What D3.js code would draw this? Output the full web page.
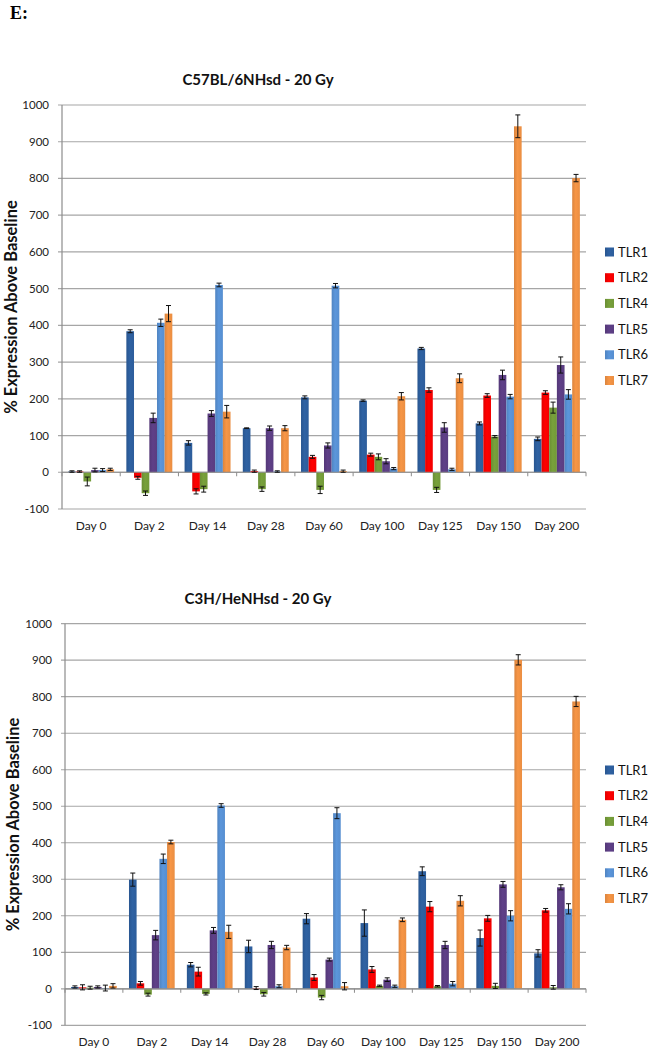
<!DOCTYPE html>
<html><head><meta charset="utf-8">
<script src="https://cdn.jsdelivr.net/npm/d3@7"></script>
<style>body{margin:0;background:#fff}svg{display:block}</style>
</head><body>
<svg id="c" width="649" height="1050"></svg>
<script>
const categories = ["Day 0","Day 2","Day 14","Day 28","Day 60","Day 100","Day 125","Day 150","Day 200"];
const seriesNames = ["TLR1","TLR2","TLR4","TLR5","TLR6","TLR7"];
const seriesColors = ["#2f62a3","#ff0000","#78a13b","#5f4088","#5b96db","#f79646"];
const yTicks = [-100,0,100,200,300,400,500,600,700,800,900,1000];

// C57BL/6NHsd - 20 Gy  (one array per series, across the days)
const c57_TLR1 = [2,384,80,120,204,195,337,133,91];
const c57_TLR2 = [2,-15,-52,3,42,48,224,209,217];
const c57_TLR4 = [-25,-57,-46,-46,-48,42,-48,97,176];
const c57_TLR5 = [6,148,160,120,73,30,122,265,292];
const c57_TLR6 = [6,407,510,2,508,10,8,206,212];
const c57_TLR7 = [8,432,165,120,3,207,256,942,801];
const c57_err1 = [2,4,6,1,4,2,3,4,5];
const c57_err2 = [2,4,7,3,4,4,6,5,5];
const c57_err4 = [12,6,8,6,10,8,7,3,15];
const c57_err5 = [5,13,8,6,7,7,13,13,22];
const c57_err6 = [4,10,5,2,6,3,3,6,13];
const c57_err7 = [3,22,17,7,3,10,12,31,10];

// C3H/HeNHsd - 20 Gy
const c3h_TLR1 = [5,299,66,116,192,180,322,139,97];
const c3h_TLR2 = [4,15,47,2,31,53,225,193,215];
const c3h_TLR4 = [3,-16,-14,-15,-24,8,7,8,4];
const c3h_TLR5 = [5,147,160,120,80,25,120,286,278];
const c3h_TLR6 = [2,356,502,7,481,7,14,200,219];
const c3h_TLR7 = [8,402,156,113,7,189,241,901,787];
const c3h_err1 = [3,18,6,17,14,36,12,22,10];
const c3h_err2 = [7,5,12,4,8,8,14,8,5];
const c3h_err4 = [4,4,3,5,6,2,2,7,5];
const c3h_err5 = [3,13,8,10,4,5,10,8,7];
const c3h_err6 = [8,13,5,4,15,3,6,14,14];
const c3h_err7 = [6,5,18,6,10,5,14,14,14];

const svg = d3.select("#c");
const defs = svg.append("defs");
seriesColors.forEach((c,i)=>{
  const g = defs.append("linearGradient").attr("id","g"+i).attr("x1","0").attr("x2","1").attr("y1","0").attr("y2","0");
  const base = d3.color(c);
  g.append("stop").attr("offset","0").attr("stop-color", base.darker(0.35));
  g.append("stop").attr("offset","0.45").attr("stop-color", base);
  g.append("stop").attr("offset","1").attr("stop-color", base.darker(0.15));
});

svg.append("text").attr("x",10).attr("y",19).attr("font-family","Liberation Serif, serif")
  .attr("font-weight","bold").attr("font-size",18).attr("fill","#000").text("E:");

function drawChart(cfg){
  const g = svg.append("g");
  const x0 = d3.scaleBand().domain(categories).range([cfg.left, 586]).paddingInner(0).paddingOuter(0);
  const x1 = d3.scaleBand().domain(seriesNames).range([0, x0.bandwidth()]).paddingInner(0).paddingOuter(0.8);
  const y = d3.scaleLinear().domain([-100,1000]).range([cfg.bottom, cfg.top]);

  // grid
  g.append("g").selectAll("line").data(yTicks).join("line")
    .attr("x1", cfg.left-4).attr("x2", 586)
    .attr("y1", d=>y(d)).attr("y2", d=>y(d))
    .attr("stroke", "#a6a6a6").attr("stroke-width", 1.2);
  // y axis labels
  g.append("g").selectAll("text").data(yTicks).join("text")
    .attr("x", cfg.left-13).attr("y", d=>y(d)+4)
    .attr("text-anchor","end").attr("font-family","Lato, sans-serif").attr("font-size",11.5).attr("fill","#222")
    .text(d=>d);
  // y axis line
  g.append("line").attr("x1",cfg.left).attr("x2",cfg.left).attr("y1",y(1000)).attr("y2",y(-100))
    .attr("stroke","#8c8c8c").attr("stroke-width",1.2);

  // bars
  cfg.vals.forEach((vals, si)=>{
    const s = seriesNames[si];
    const bg = g.append("g");
    bg.selectAll("rect").data(vals).join("rect")
      .attr("x", (d,i)=>x0(categories[i]) + x1(s))
      .attr("width", x1.bandwidth())
      .attr("y", d=>Math.min(y(d), y(0)))
      .attr("height", d=>Math.abs(y(d)-y(0)))
      .attr("fill", "url(#g"+si+")");
  });
  // x axis line at 0
  g.append("line").attr("x1",cfg.left).attr("x2",586).attr("y1",y(0)).attr("y2",y(0))
    .attr("stroke","#8c8c8c").attr("stroke-width",1.2);
  // x ticks at category boundaries
  const bounds = categories.map(c=>x0(c)).concat([586]);
  g.append("g").selectAll("line").data(bounds).join("line")
    .attr("x1",d=>d).attr("x2",d=>d).attr("y1",y(0)).attr("y2",y(0)+4)
    .attr("stroke","#8c8c8c").attr("stroke-width",1);
  // error bars
  cfg.vals.forEach((vals, si)=>{
    const s = seriesNames[si];
    const errs = cfg.errs[si];
    const eg = g.append("g").attr("stroke","#111").attr("stroke-width",1);
    vals.forEach((v,i)=>{
      const cx = x0(categories[i]) + x1(s) + x1.bandwidth()/2;
      const e = errs[i];
      eg.append("line").attr("x1",cx).attr("x2",cx).attr("y1",y(v-e)).attr("y2",y(v+e));
      eg.append("line").attr("x1",cx-2.5).attr("x2",cx+2.5).attr("y1",y(v-e)).attr("y2",y(v-e));
      eg.append("line").attr("x1",cx-2.5).attr("x2",cx+2.5).attr("y1",y(v+e)).attr("y2",y(v+e));
    });
  });
  // x labels
  g.append("g").selectAll("text").data(categories).join("text")
    .attr("x", d=>x0(d)+x0.bandwidth()/2).attr("y", cfg.bottom+21)
    .attr("text-anchor","middle").attr("font-family","Lato, sans-serif").attr("font-size",12).attr("fill","#222")
    .text(d=>d);
  // title
  g.append("text").attr("x",258).attr("y",cfg.titleY).attr("text-anchor","middle")
    .attr("font-family","Lato, sans-serif").attr("font-weight","bold").attr("font-size",15).attr("fill","#111")
    .text(cfg.title);
  // y axis title
  const yc = (y(1000)+y(-100))/2;
  g.append("text").attr("transform",`translate(${cfg.ytX},${yc}) rotate(-90)`).attr("text-anchor","middle")
    .attr("font-family","Lato, sans-serif").attr("font-weight","bold").attr("font-size",16.5).attr("fill","#111")
    .text("% Expression Above Baseline");
  // legend
  const lg = g.append("g");
  seriesNames.forEach((s,i)=>{
    const ly = cfg.legY + i*25.7;
    lg.append("rect").attr("x",605).attr("y",ly-4.5).attr("width",9).attr("height",9).attr("fill","url(#g"+i+")");
    lg.append("text").attr("x",618).attr("y",ly+4.5).attr("font-family","Lato, sans-serif").attr("font-size",13).attr("fill","#111").text(s);
  });
}

drawChart({
  title:"C57BL/6NHsd - 20 Gy", titleY:85, left:62, top:105, bottom:509, ytX:17, legY:252,
  vals:[c57_TLR1,c57_TLR2,c57_TLR4,c57_TLR5,c57_TLR6,c57_TLR7],
  errs:[c57_err1,c57_err2,c57_err4,c57_err5,c57_err6,c57_err7]
});
drawChart({
  title:"C3H/HeNHsd - 20 Gy", titleY:604, left:65, top:623.7, bottom:1025.3, ytX:19, legY:770,
  vals:[c3h_TLR1,c3h_TLR2,c3h_TLR4,c3h_TLR5,c3h_TLR6,c3h_TLR7],
  errs:[c3h_err1,c3h_err2,c3h_err4,c3h_err5,c3h_err6,c3h_err7]
});
</script>
</body></html>
